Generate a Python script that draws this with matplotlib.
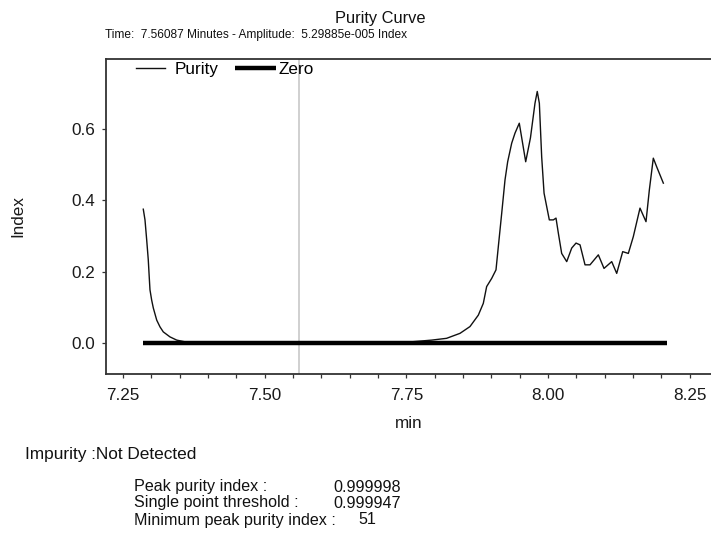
import matplotlib
matplotlib.use("Agg")
import matplotlib.pyplot as plt
from matplotlib.ticker import MultipleLocator, FixedLocator

plt.rcParams['font.family'] = ['Liberation Sans', 'DejaVu Sans']

# ---- data ----
purity_time = [7.2858, 7.2888, 7.2918, 7.2946, 7.2964, 7.2976, 7.3006, 7.3035,
               7.3095, 7.3153, 7.3211, 7.3329, 7.3448, 7.36, 7.45, 7.55, 7.65,
               7.75, 7.7947, 7.821, 7.8447, 7.8623, 7.877, 7.8858, 7.8917,
               7.9006, 7.9082, 7.9123, 7.9183, 7.9241, 7.9288, 7.9359, 7.9417,
               7.9493, 7.9606, 7.9690, 7.977, 7.981, 7.9847, 7.9888, 7.993,
               7.9977, 8.0023, 8.0094, 8.0141, 8.0182, 8.0241, 8.033, 8.0418,
               8.0494, 8.0565, 8.0653, 8.0741, 8.0888, 8.0988, 8.1124, 8.1212,
               8.1318, 8.1417, 8.1505, 8.1623, 8.1729, 8.1788, 8.1858, 8.1917,
               8.2035]
purity_index = [0.375, 0.345, 0.289, 0.233, 0.182, 0.149, 0.120, 0.098,
                0.064, 0.045, 0.031, 0.017, 0.008, 0.003, 0.001, 0.0, 0.0,
                0.002, 0.008, 0.013, 0.027, 0.046, 0.078, 0.111, 0.158,
                0.181, 0.205, 0.270, 0.364, 0.457, 0.508, 0.560, 0.588,
                0.616, 0.508, 0.575, 0.672, 0.705, 0.672, 0.522, 0.420,
                0.382, 0.345, 0.345, 0.350, 0.308, 0.251, 0.228, 0.266,
                0.280, 0.275, 0.219, 0.219, 0.247, 0.209, 0.228, 0.195,
                0.256, 0.251, 0.298, 0.378, 0.340, 0.429, 0.518, 0.494,
                0.448]
zero_time = [7.285, 8.21]
zero_index = [0.0, 0.0]
cursor_time = 7.56087

x_ticks = [7.25, 7.50, 7.75, 8.00, 8.25]
x_tick_labels = ["7.25", "7.50", "7.75", "8.00", "8.25"]
y_ticks = [0.0, 0.2, 0.4, 0.6]
y_tick_labels = ["0.0", "0.2", "0.4", "0.6"]

W, H = 711, 545
fig = plt.figure(figsize=(W / 100, H / 100), dpi=100)
L, R, T, B = 106, 711, 59, 374
ax = fig.add_axes([L / W, 1 - B / H, (R - L) / W, (B - T) / H])

ax.axvline(cursor_time, color='#c4c4c4', lw=1.1, zorder=1)
ln_p, = ax.plot(purity_time, purity_index, color='#111111', lw=1.0, zorder=2)
ln_z, = ax.plot(zero_time, zero_index, color='black', lw=3.2,
                solid_capstyle='butt', zorder=3)

ax.set_xlim(7.22, 8.2876)
ax.set_ylim(-0.087, 0.796)

ax.xaxis.set_major_locator(FixedLocator(x_ticks))
ax.set_xticklabels(x_tick_labels)
ax.xaxis.set_minor_locator(MultipleLocator(0.05))
ax.yaxis.set_major_locator(FixedLocator(y_ticks))
ax.set_yticklabels(y_tick_labels)

ax.tick_params(axis='both', which='both', direction='out', length=3,
               width=0.9, colors='#333333', labelcolor='#1a1a1a',
               labelsize=12.3, pad=5)
ax.tick_params(axis='x', which='both', pad=7)

for s in ['left', 'top', 'bottom']:
    ax.spines[s].set_color('#333333')
    ax.spines[s].set_linewidth(1.3)
ax.spines['right'].set_visible(False)

ax.set_xlabel('min', fontsize=12.3, color='#1a1a1a', va='center')
ax.xaxis.set_label_coords(0.5, -(423 - B) / (B - T))
ax.set_ylabel('Index', fontsize=12.3, color='#1a1a1a', va='center')
ax.yaxis.set_label_coords((18 - L) / (R - L), (B - 216) / (B - T))

leg1 = ax.legend([ln_p], ['Purity'], loc='upper left',
                 bbox_to_anchor=((133 - L) / (R - L), 1.0), frameon=False,
                 fontsize=12.3, handlelength=1.7, handletextpad=0.55,
                 borderaxespad=0.0, borderpad=0.2)
ax.add_artist(leg1)
ax.legend([ln_z], ['Zero'], loc='upper left',
          bbox_to_anchor=((232 - L) / (R - L), 1.0), frameon=False,
          fontsize=12.3, handlelength=2.4, handletextpad=0.15,
          borderaxespad=0.0, borderpad=0.2)

fig.text(380 / W, 1 - 19 / H, 'Purity Curve', ha='center', va='center',
         fontsize=11.8, color='#111111')
fig.text(105 / W, 1 - 35 / H,
         'Time:  7.56087 Minutes - Amplitude:  5.29885e-005 Index',
         ha='left', va='center', fontsize=8.6, color='#111111')

fig.text(25 / W, 1 - 455 / H, 'Impurity :Not Detected', ha='left',
         va='center', fontsize=12.4, color='#111111')
rows_label = ['Peak purity index :', 'Single point threshold :',
              'Minimum peak purity index :']
rows_value = ['0.999998', '0.999947', '51']
rows_y = [487, 503, 520]
rows_vx = [333, 333, 358]
for lab, val, yy, vx in zip(rows_label, rows_value, rows_y, rows_vx):
    fig.text(134 / W, 1 - yy / H, lab, ha='left', va='center',
             fontsize=11.6, color='#111111')
    fig.text(vx / W, 1 - yy / H, val, ha='left', va='center',
             fontsize=11.6, color='#111111')

fig.savefig('out.png', dpi=100, facecolor='white')
